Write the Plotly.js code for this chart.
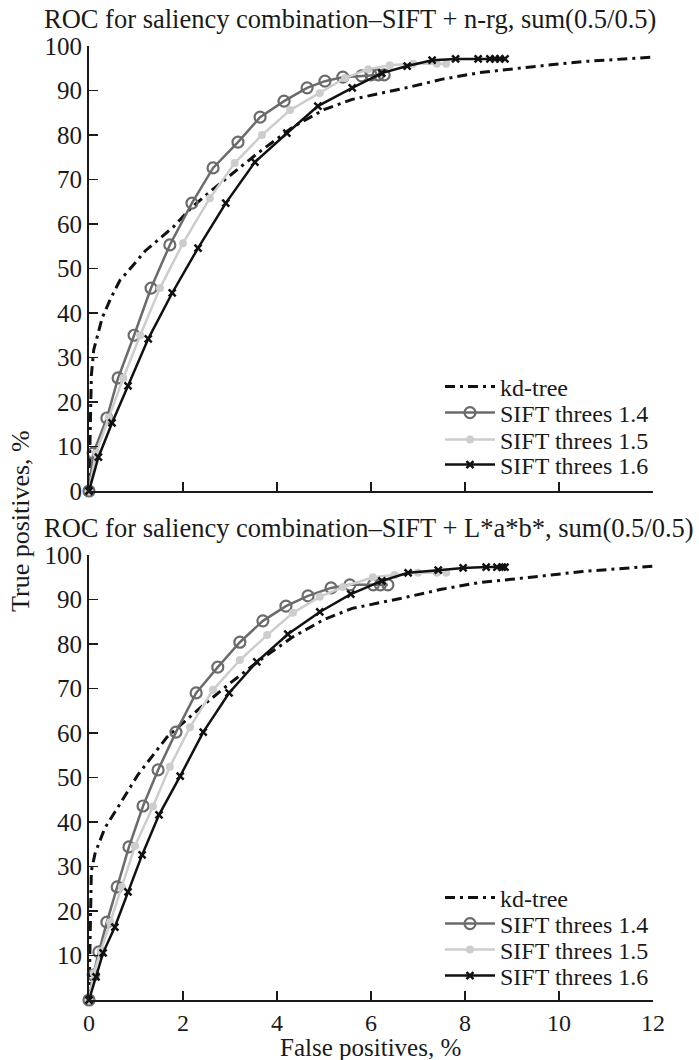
<!DOCTYPE html>
<html>
<head>
<meta charset="utf-8">
<script src="https://cdn.plot.ly/plotly-3.0.1.min.js"></script>
<style>
html,body{margin:0;padding:0;background:#fff;}
#chart{width:699px;height:1060px;}
</style>
</head>
<body>
<div id="chart"></div>
<script>
// ---------- Data ----------
const seriesNames = ["kd-tree", "SIFT threes 1.4", "SIFT threes 1.5", "SIFT threes 1.6"];
const titleTop = "ROC for saliency combination\u2013SIFT + n-rg, sum(0.5/0.5)";
const titleBottom = "ROC for saliency combination\u2013SIFT + L*a*b*, sum(0.5/0.5)";
const xAxisTitle = "False positives, %";
const yAxisTitle = "True positives, %";
const xTicks = [0, 2, 4, 6, 8, 10, 12];
const yTicksTop = [0, 10, 20, 30, 40, 50, 60, 70, 80, 90, 100];
const yTicksBottom = [10, 20, 30, 40, 50, 60, 70, 80, 90, 100];

// Top panel: SIFT + n-rg
const kdTopX = [0, 0.02, 0.05, 0.1, 0.18, 0.28, 0.45, 0.66, 0.8, 1.2, 1.79, 2.19, 2.6, 3.06, 3.6, 4.34, 5.0, 5.6, 6.25, 6.83, 7.5, 8.3, 9.4, 10.5, 12];
const kdTopY = [0, 12, 26, 31.7, 35, 38.9, 43, 47.4, 49, 54, 59.3, 63.8, 67.5, 71.5, 76, 81.8, 85.7, 88, 89.4, 90.8, 92.5, 94, 95.3, 96.5, 97.5];
const s14TopX = [0, 0.09, 0.38, 0.62, 0.96, 1.32, 1.72, 2.19, 2.64, 3.17, 3.64, 4.15, 4.64, 5.02, 5.4, 5.8, 6.0, 6.15, 6.28];
const s14TopY = [0, 8.5, 16.4, 25.4, 35, 45.6, 55.3, 64.7, 72.6, 78.4, 84, 87.6, 90.6, 92.1, 93, 93.3, 93.5, 93.5, 93.5];
const s15TopX = [0, 0.15, 0.42, 0.73, 1.09, 1.51, 2.0, 2.57, 3.1, 3.68, 4.28, 4.91, 5.45, 5.94, 6.4, 6.9, 7.4, 7.6];
const s15TopY = [0, 8.5, 16.5, 25.4, 35, 45.6, 55.7, 65.8, 73.7, 80, 85.6, 89.4, 92.8, 94.8, 95.7, 96, 96, 96];
const s16TopX = [0, 0.2, 0.49, 0.83, 1.26, 1.77, 2.32, 2.91, 3.53, 4.21, 4.87, 5.6, 6.23, 6.77, 7.3, 7.8, 8.28, 8.53, 8.64, 8.74, 8.85];
const s16TopY = [0, 7.6, 15.3, 23.6, 34.2, 44.5, 54.6, 64.7, 73.9, 80.4, 86.5, 90.6, 93.9, 95.5, 96.8, 97.1, 97.1, 97.1, 97.1, 97.1, 97.1];

// Bottom panel: SIFT + L*a*b*
const kdBotX = [0, 0.02, 0.05, 0.13, 0.34, 0.62, 1.04, 1.66, 2.36, 3.0, 3.64, 4.34, 5.0, 5.6, 6.26, 6.79, 7.5, 8.3, 9.4, 10.5, 12];
const kdBotY = [0, 14, 29, 33, 38.7, 43.4, 50.6, 59.1, 65.6, 71.2, 76.4, 81.6, 85.5, 88, 89.4, 90.6, 92.3, 93.8, 95, 96.3, 97.5];
const s14BotX = [0, 0.09, 0.21, 0.38, 0.6, 0.85, 1.15, 1.47, 1.85, 2.28, 2.74, 3.21, 3.7, 4.19, 4.66, 5.15, 5.55, 6.05, 6.2, 6.36];
const s14BotY = [0, 5.6, 10.8, 17.5, 25.4, 34.4, 43.6, 51.7, 60.2, 69, 74.8, 80.4, 85.2, 88.5, 90.8, 92.6, 93.3, 93.3, 93.3, 93.3];
const s15BotX = [0, 0.1, 0.25, 0.45, 0.7, 0.98, 1.36, 1.72, 2.15, 2.64, 3.21, 3.79, 4.34, 4.91, 5.4, 6.04, 6.5, 7.0, 7.4, 7.6];
const s15BotY = [0, 6, 11, 17.5, 25.4, 34.6, 43.5, 52.4, 61.3, 69.7, 76.4, 82, 87, 90.6, 92.8, 95, 95.5, 96, 96, 96];
const s16BotX = [0, 0.15, 0.3, 0.55, 0.83, 1.13, 1.49, 1.94, 2.43, 2.98, 3.57, 4.23, 4.91, 5.57, 6.23, 6.79, 7.43, 7.96, 8.45, 8.68, 8.79, 8.85];
const s16BotY = [0, 5.2, 10.6, 16.4, 24.3, 32.6, 41.6, 50.3, 60.2, 69, 76, 82.2, 87.2, 91.2, 94.2, 96, 96.6, 97.1, 97.3, 97.3, 97.3, 97.3];

// ---------- Styles ----------
const FONT = "'Liberation Serif', 'Times New Roman', serif";
const INK = "#1a1a1a";
const styles = [
  {line: {color: "#111", width: 3, dash: "10px,5px,3px,5px"}, mode: "lines"},
  {line: {color: "#6b6b6b", width: 2.5}, mode: "lines+markers",
   marker: {symbol: "circle-open", size: 11, color: "#6b6b6b", line: {width: 2.2, color: "#6b6b6b"}}},
  {line: {color: "#cdcdcd", width: 2.5}, mode: "lines+markers",
   marker: {symbol: "circle", size: 8, color: "#cdcdcd"}},
  {line: {color: "#111", width: 2.5}, mode: "lines+markers",
   marker: {symbol: "x-thin-open", size: 7, color: "#111", line: {width: 2.5, color: "#111"}}}
];

const topData = [[kdTopX, kdTopY], [s14TopX, s14TopY], [s15TopX, s15TopY], [s16TopX, s16TopY]];
const botData = [[kdBotX, kdBotY], [s14BotX, s14BotY], [s15BotX, s15BotY], [s16BotX, s16BotY]];

const traces = [];
topData.forEach((d, i) => {
  traces.push(Object.assign({
    type: "scatter", x: d[0], y: d[1], name: seriesNames[i],
    xaxis: "x", yaxis: "y", cliponaxis: false, showlegend: true,
    legend: i === 0 ? "legend" : "legend" + (i + 1)
  }, JSON.parse(JSON.stringify(styles[i]))));
});
botData.forEach((d, i) => {
  traces.push(Object.assign({
    type: "scatter", x: d[0], y: d[1], name: seriesNames[i],
    xaxis: "x2", yaxis: "y2", cliponaxis: false, showlegend: true,
    legend: "legend" + (i + 5)
  }, JSON.parse(JSON.stringify(styles[i]))));
});

// ---------- Layout geometry ----------
const W = 699, H = 1060;
const M = {l: 89, r: 46, t: 46, b: 60};
const plotH = H - M.t - M.b;               // 954
const paperX = px => (px - M.l) / (W - M.l - M.r);
const paperY = py => (H - M.b - py) / plotH;

const topDomain = [paperY(491), 1];
const botDomain = [0, paperY(555)];

function xAxis(anchor, showLabels) {
  return {
    anchor: anchor, range: [0, 12], tickvals: xTicks, ticktext: xTicks.map(String),
    showticklabels: showLabels, ticks: "inside", ticklen: 9, tickwidth: 1.5, tickcolor: INK,
    showline: true, linecolor: INK, linewidth: 2, showgrid: false, zeroline: false,
    tickfont: {family: FONT, size: 24, color: INK}, fixedrange: true
  };
}
function yAxis(anchor, domain, ticks) {
  return {
    anchor: anchor, domain: domain, range: [0, 100], tickvals: ticks, ticktext: ticks.map(String),
    ticks: "inside", ticklen: 9, tickwidth: 1.5, tickcolor: INK,
    showline: true, linecolor: INK, linewidth: 2, showgrid: false, zeroline: false,
    tickfont: {family: FONT, size: 25, color: INK}, fixedrange: true
  };
}

const legendRowsTop = [387, 413, 440, 465];
const legendRowsBot = [898, 924, 950, 976];
const legendBase = {
  x: paperX(440), xanchor: "left", yanchor: "middle",
  bgcolor: "rgba(0,0,0,0)", borderwidth: 0, itemwidth: 50,
  font: {family: FONT, size: 24, color: INK}, tracegroupgap: 0
};

const layout = {
  width: W, height: H, margin: M, showlegend: true,
  paper_bgcolor: "#fff", plot_bgcolor: "#fff",
  font: {family: FONT, color: INK},
  xaxis: Object.assign(xAxis("y", false), {domain: [0, 1]}),
  yaxis: yAxis("x", topDomain, yTicksTop),
  xaxis2: Object.assign(xAxis("y2", true), {domain: [0, 1]}),
  yaxis2: yAxis("x2", botDomain, yTicksBottom),
  annotations: [
    {text: titleTop, xref: "paper", yref: "paper", x: paperX(42), y: paperY(19),
     xanchor: "left", yanchor: "middle", showarrow: false, font: {family: FONT, size: 26.5, color: INK}},
    {text: titleBottom, xref: "paper", yref: "paper", x: paperX(42), y: paperY(528),
     xanchor: "left", yanchor: "middle", showarrow: false, font: {family: FONT, size: 26.5, color: INK}},
    {text: yAxisTitle, xref: "paper", yref: "paper", x: paperX(20), y: paperY(521),
     xanchor: "center", yanchor: "middle", textangle: -90, showarrow: false,
     font: {family: FONT, size: 26, color: INK}},
    {text: xAxisTitle, xref: "paper", yref: "paper", x: paperX(370), y: paperY(1047),
     xanchor: "center", yanchor: "middle", showarrow: false, font: {family: FONT, size: 25, color: INK}}
  ]
};
legendRowsTop.forEach((py, i) => {
  layout[i === 0 ? "legend" : "legend" + (i + 1)] = Object.assign({}, legendBase, {y: paperY(py)});
});
legendRowsBot.forEach((py, i) => {
  layout["legend" + (i + 5)] = Object.assign({}, legendBase, {y: paperY(py)});
});

Plotly.newPlot("chart", traces, layout, {displayModeBar: false, staticPlot: true});
</script>
</body>
</html>
